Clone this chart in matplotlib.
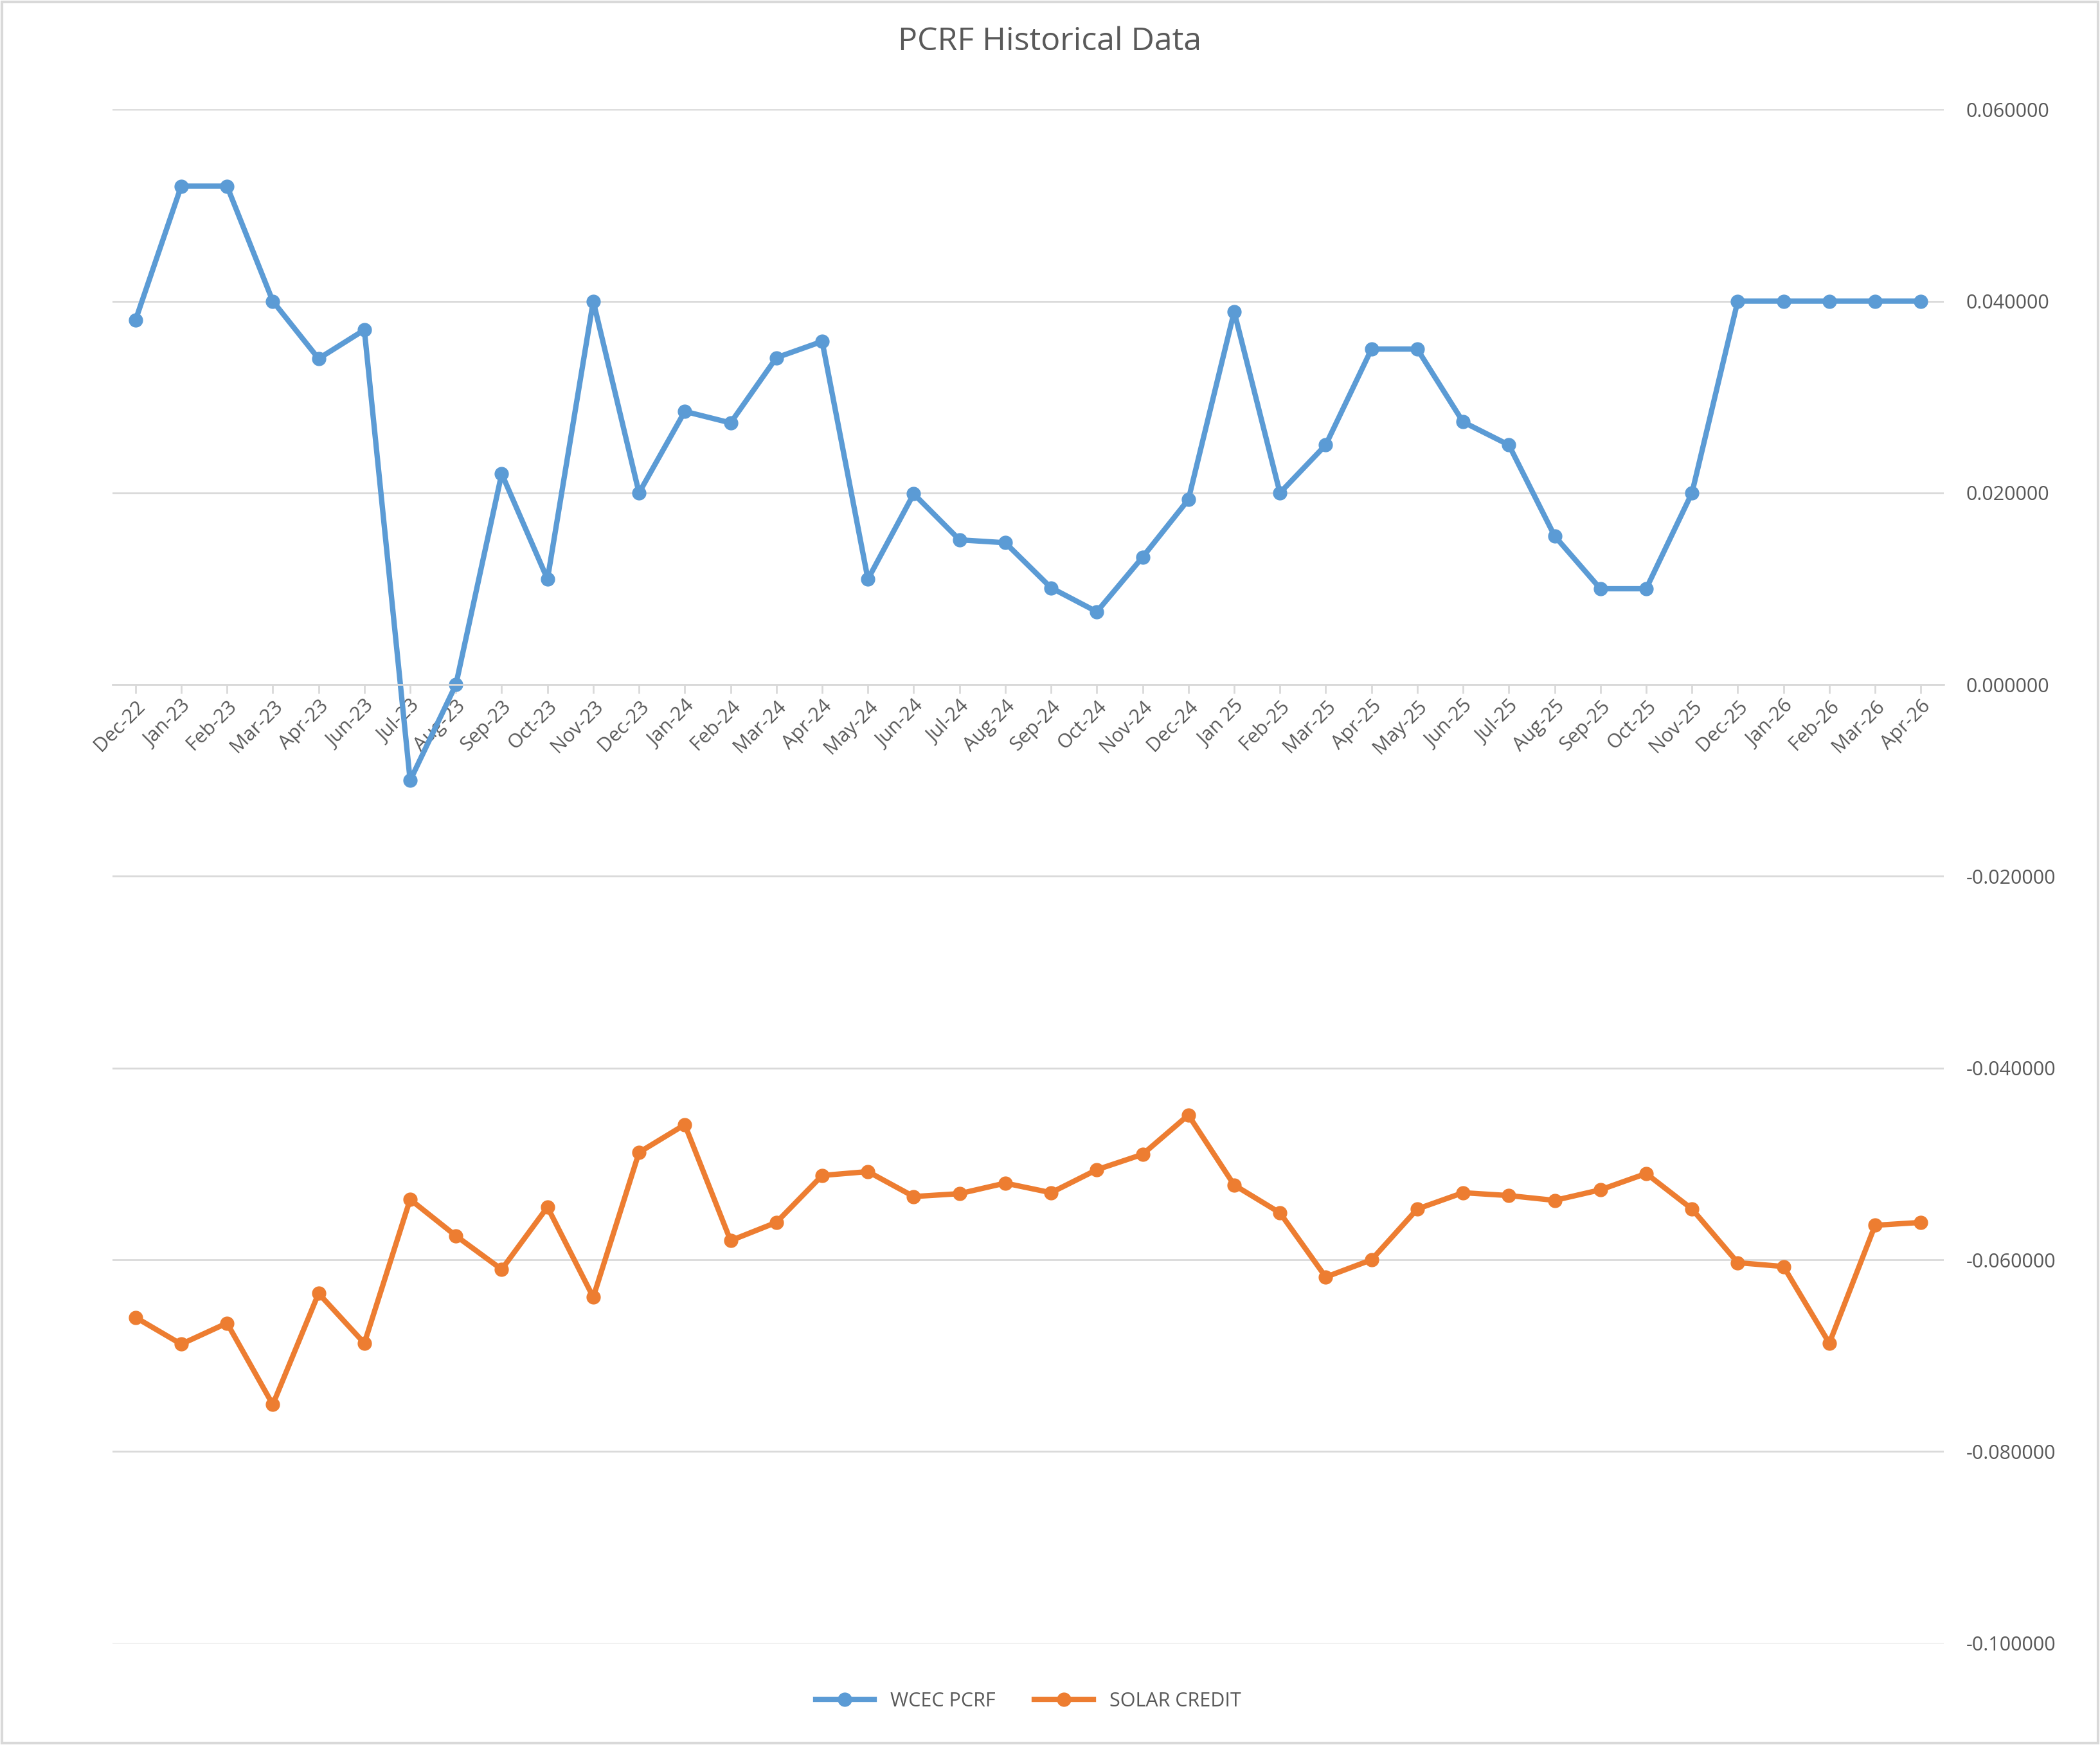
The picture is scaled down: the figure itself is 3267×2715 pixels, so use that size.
import matplotlib
matplotlib.use("Agg")
import matplotlib.pyplot as plt
from matplotlib.ticker import FormatStrFormatter

months = ["Dec-22","Jan-23","Feb-23","Mar-23","Apr-23","Jun-23","Jul-23","Aug-23","Sep-23","Oct-23","Nov-23","Dec-23",
          "Jan-24","Feb-24","Mar-24","Apr-24","May-24","Jun-24","Jul-24","Aug-24","Sep-24","Oct-24","Nov-24","Dec-24",
          "Jan 25","Feb-25","Mar-25","Apr-25","May-25","Jun-25","Jul-25","Aug-25","Sep-25","Oct-25","Nov-25","Dec-25",
          "Jan-26","Feb-26","Mar-26","Apr-26"]
wcec = [0.038,0.052,0.052,0.040,0.034,0.037,-0.010,0.000,0.022,0.011,0.040,0.020,
        0.0285,0.0273,0.0341,0.0358,0.011,0.0199,0.0151,0.0148,0.0101,0.0076,0.0133,0.0193,
        0.0389,0.020,0.025,0.035,0.035,0.0274,0.025,0.0155,0.010,0.010,0.020,0.040,
        0.040,0.040,0.040,0.040]
solar = [-0.066,-0.0688,-0.0666,-0.0751,-0.0635,-0.0687,-0.0537,-0.0575,-0.061,-0.0545,-0.0639,-0.0488,
         -0.0459,-0.058,-0.0561,-0.0512,-0.0508,-0.0534,-0.0531,-0.052,-0.053,-0.0506,-0.049,-0.0449,
         -0.0522,-0.0551,-0.0618,-0.060,-0.0547,-0.053,-0.0533,-0.0538,-0.0527,-0.051,-0.0547,-0.0603,
         -0.0607,-0.0687,-0.0564,-0.0561]

plt.rcParams['font.family'] = ['Open Sans', 'DejaVu Sans']
fig = plt.figure(figsize=(32.67, 27.15), dpi=100)
ax = fig.add_axes([0.0536, 0.0583, 0.872, 0.879])
x = list(range(len(months)))
ax.plot(x, wcec, color="#5B9BD5", lw=6, marker="o", ms=15, label="WCEC PCRF")
ax.plot(x, solar, color="#ED7D31", lw=6, marker="o", ms=15, label="SOLAR CREDIT")
ax.set_xlim(-0.5, len(months) - 0.5)
ax.set_ylim(-0.1, 0.06)
ax.set_yticks([0.06,0.04,0.02,0.0,-0.02,-0.04,-0.06,-0.08,-0.1])
ax.yaxis.set_major_formatter(FormatStrFormatter("%.6f"))
ax.yaxis.tick_right()
ax.tick_params(axis='y', length=0, labelsize=22, colors="#595959", pad=25)
ax.grid(axis='y', color="#D9D9D9", lw=2)
ax.set_axisbelow(True)
for s in ["top", "left", "right"]:
    ax.spines[s].set_visible(False)
ax.spines["bottom"].set_position(("data", 0))
ax.spines["bottom"].set_color("#D9D9D9")
ax.spines["bottom"].set_linewidth(2)
ax.set_xticks(x)
ax.set_xticklabels(months, rotation=45, ha="right", rotation_mode="anchor")
ax.tick_params(axis='x', length=10, color="#D9D9D9", width=2, labelsize=22, colors="#595959")
for t in ax.get_xticklabels():
    t.set_color("#595959")
fig.suptitle("PCRF Historical Data", y=0.985, fontsize=36, color="#595959")
ax.legend(loc="upper center", bbox_to_anchor=(0.5, -0.02), ncol=2, frameon=False,
          fontsize=22, labelcolor="#595959", handlelength=3)
fig.patches.append(plt.Rectangle((0.001, 0.001), 0.998, 0.998, transform=fig.transFigure,
                                 fill=False, edgecolor="#D9D9D9", lw=3))
fig.savefig("out.png", dpi=100)
